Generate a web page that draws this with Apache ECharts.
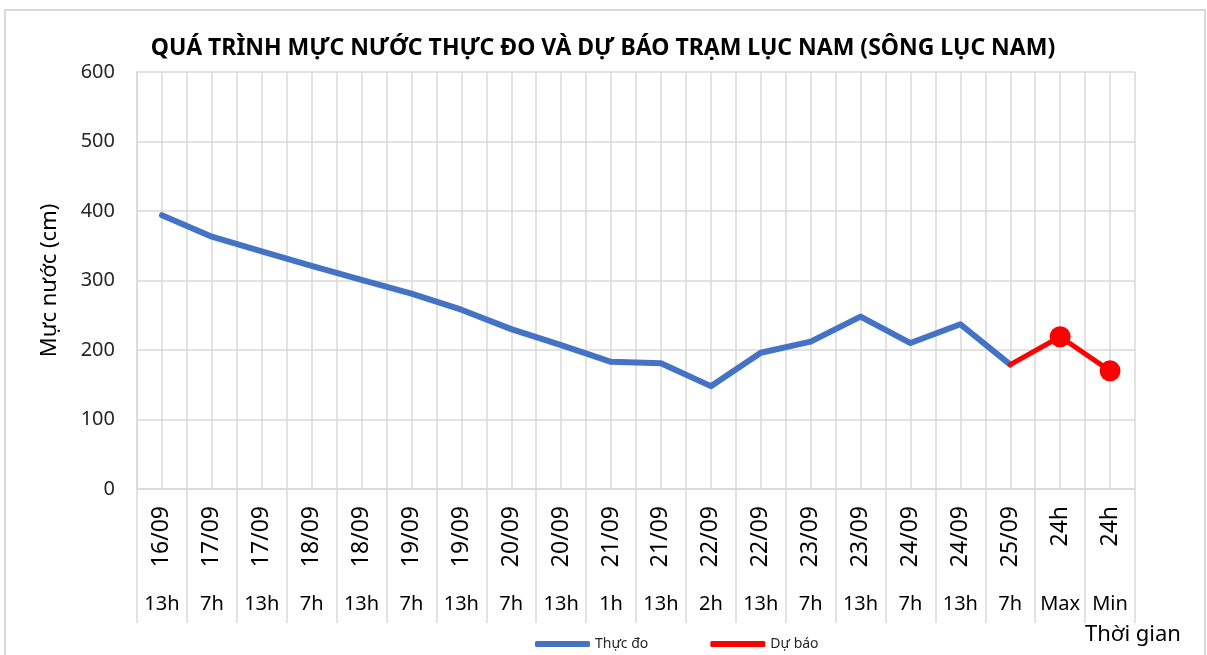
<!DOCTYPE html>
<html>
<head>
<meta charset="utf-8">
<script src="https://cdn.jsdelivr.net/npm/echarts@6/dist/echarts.min.js"></script>
<style>
html,body{margin:0;padding:0;background:#fff;}
#chart{width:1207px;height:655px;}
</style>
</head>
<body>
<div id="chart"></div>
<script>
// ---- data ----
var dates = ['16/09','17/09','17/09','18/09','18/09','19/09','19/09','20/09','20/09','21/09','21/09','22/09','22/09','23/09','23/09','24/09','24/09','25/09','24h','24h'];
var hours = ['13h','7h','13h','7h','13h','7h','13h','7h','13h','1h','13h','2h','13h','7h','13h','7h','13h','7h','Max','Min'];
var observed = [394, 363, 342, 321, 301, 281, 258, 230, 207, 183, 181, 148, 196, 212, 248, 210, 237, 179];
var forecast = [null, null, null, null, null, null, null, null, null, null, null, null, null, null, null, null, null, 179, 219, 170];
var yTicks = [0, 100, 200, 300, 400, 500, 600];

var idx = dates.map(function (d, i) { return String(i); });
var FONT = 'Noto Sans';

var forecastData = forecast.map(function (v, i) {
  if (v === null) return null;
  if (i === 17) return { value: v, symbolSize: 0 };
  return v;
});

var chart = echarts.init(document.getElementById('chart'), null, { renderer: 'canvas' });
chart.setOption({
  backgroundColor: '#ffffff',
  animation: false,
  textStyle: { fontFamily: FONT },
  title: {
    text: 'QUÁ TRÌNH MỰC NƯỚC THỰC ĐO VÀ DỰ BÁO TRẠM LỤC NAM (SÔNG LỤC NAM)',
    left: 598, textAlign: 'center', top: 32,
    textStyle: { fontFamily: FONT, fontSize: 23, fontWeight: 'bold', color: '#000' }
  },
  legend: {
    left: 530, top: 632,
    itemWidth: 55, itemHeight: 6, itemGap: 62,
    textStyle: { fontFamily: FONT, fontSize: 14, color: '#262626' },
    data: [
      { name: 'Thực đo', icon: 'roundRect' },
      { name: 'Dự báo', icon: 'roundRect' }
    ]
  },
  grid: { left: 137, right: 72, top: 72, bottom: 166, containLabel: false },
  xAxis: [
    {
      type: 'category', data: idx, boundaryGap: true, position: 'bottom',
      axisLine: { show: true, lineStyle: { color: '#d9d9d9', width: 1.5 } },
      axisTick: { show: true, interval: 0, length: 134, lineStyle: { color: '#d9d9d9', width: 1.5 } },
      axisLabel: {
        interval: 0, rotate: 90, margin: 17,
        fontFamily: FONT, fontSize: 23, color: '#000',
        formatter: function (v, i) { return dates[+v]; }
      },
      splitLine: { show: false }
    },
    {
      type: 'category', data: idx, boundaryGap: true, position: 'bottom',
      axisLine: { show: false }, axisTick: { show: false },
      axisLabel: {
        interval: 0, margin: 105,
        fontFamily: FONT, fontSize: 20, color: '#000',
        formatter: function (v, i) { return hours[+v]; }
      },
      splitLine: { show: false }
    },
    {
      type: 'value', min: 0, max: 40, interval: 1, position: 'bottom',
      axisLine: { show: false }, axisTick: { show: false }, axisLabel: { show: false },
      splitLine: { show: true, lineStyle: { color: '#d9d9d9', width: 1.5 } }
    }
  ],
  yAxis: {
    type: 'value', min: yTicks[0], max: yTicks[yTicks.length - 1], interval: 100,
    name: 'Mực nước (cm)', nameLocation: 'middle', nameGap: 76,
    nameTextStyle: { fontFamily: FONT, fontSize: 22, color: '#000' },
    axisLine: { show: true, lineStyle: { color: '#d9d9d9', width: 1.5 } },
    axisTick: { show: false },
    axisLabel: { margin: 22, fontFamily: FONT, fontSize: 20, color: '#262626' },
    splitLine: { show: true, lineStyle: { color: '#d9d9d9', width: 1.5 } }
  },
  graphic: [
    {
      type: 'rect', silent: true, z: -1,
      shape: { x: 5, y: 10, width: 1200, height: 700 },
      style: { fill: 'none', stroke: '#d9d9d9', lineWidth: 2 }
    },
    {
      type: 'text', left: 1085, top: 624,
      style: { text: 'Thời gian', fontFamily: FONT, fontSize: 22, fill: '#000' }
    }
  ],
  series: [
    {
      name: 'Thực đo', type: 'line', xAxisIndex: 0, data: observed,
      showSymbol: false, symbol: 'none',
      lineStyle: { color: '#4472C4', width: 6, cap: 'round', join: 'round' },
      itemStyle: { color: '#4472C4' }, z: 3
    },
    {
      name: 'Dự báo', type: 'line', xAxisIndex: 0, data: forecastData,
      symbol: 'circle', symbolSize: 21, showSymbol: true,
      lineStyle: { color: '#ff0000', width: 5, cap: 'round', join: 'round' },
      itemStyle: { color: '#ff0000' }, z: 4
    }
  ]
});
</script>
</body>
</html>
